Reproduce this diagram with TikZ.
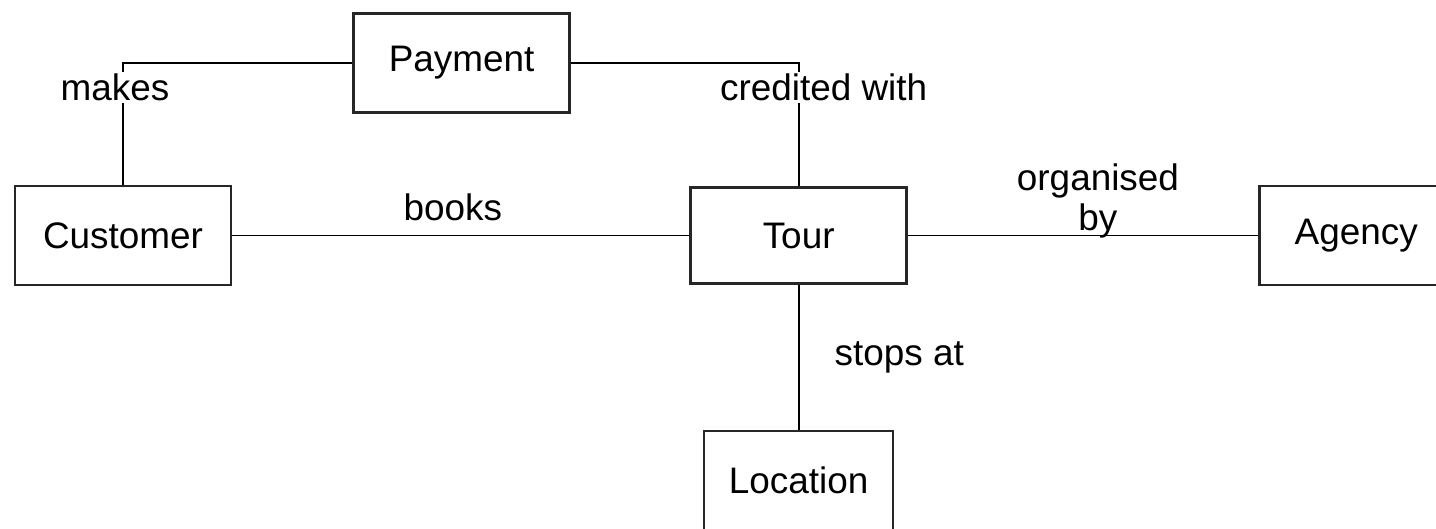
\documentclass[tikz,border=0pt]{standalone}
\usepackage{fontspec}
\setmainfont{Liberation Sans}
\usetikzlibrary{positioning}
\tikzset{node distance=2cm, % Default gap between boxes
      entity/.style={ % Sets the properties for each box
      draw=black!85, line width=1.5pt,
      minimum width=4.32cm, minimum height=1.98cm,
      font=\fontsize{21}{22.5}\selectfont},
      rel/.style={ % Sets the properties for each connector
      draw, line width=1.1pt},
      lbl/.style={ % Relationship names, white behind the text
      fill=white, inner sep=1pt,
      font=\fontsize{21}{22.5}\selectfont}}

\begin{document}
\begin{tikzpicture}
      \useasboundingbox (0,0) rectangle (28.72,-10.56);
      \clip (0,0) rectangle (28.72,-10.56);
      \node[entity] (cust) at (2.46,-4.71) {Customer};
      \node[entity, above right=1.42cm and 2.4cm of cust] (pay) {Payment};
      \node[entity, right=9.14cm of cust, minimum height=1.92cm] (tour) {Tour};
      \node[entity, right=7cm of tour, minimum width=3.88cm] (agency) {Agency};
      \node[entity, below=2.9cm of tour, minimum width=3.78cm] (loc) {Location};
      \draw[rel] (cust.north) |- (pay.west) node[lbl, pos=0.4, xshift=-0.16cm] {makes};
      \draw[rel] (pay.east) -| (tour.north) node[lbl, pos=0.6, xshift=0.5cm] {credited with};
      \draw[rel] (cust.east) -- (tour.west) node[lbl, midway, above=0.28cm, inner sep=0pt, xshift=-0.16cm] {books};
      \draw[rel] (tour.east) -- (agency.west) node[lbl, midway, above=-2pt, inner sep=0pt, xshift=0.3cm, fill=none, align=center] {organised\\by};
      \draw[rel] (tour.south) -- (loc.north) node[lbl, midway, right=0.7cm, inner sep=0pt] {stops at};
    \end{tikzpicture}
\end{document}
